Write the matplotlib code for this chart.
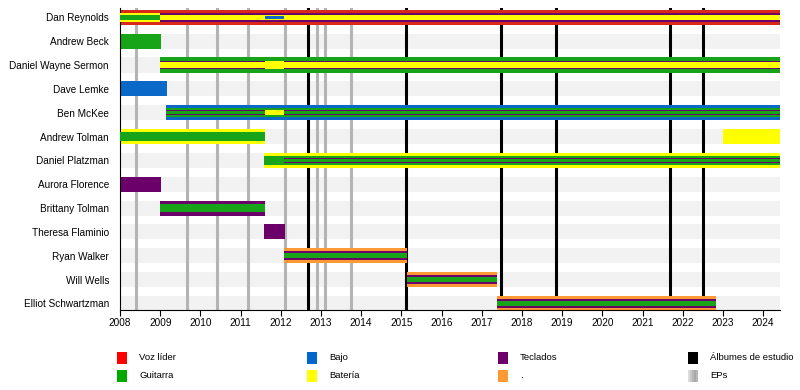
import matplotlib.pyplot as plt
from matplotlib.patches import Rectangle

plt.rcParams['font.family'] = ['Liberation Sans', 'DejaVu Sans']

members = ["Dan Reynolds", "Andrew Beck", "Daniel Wayne Sermon", "Dave Lemke",
           "Ben McKee", "Andrew Tolman", "Daniel Platzman", "Aurora Florence",
           "Brittany Tolman", "Theresa Flaminio", "Ryan Walker", "Will Wells",
           "Elliot Schwartzman"]

START = 2008.0
END = 2024.42

# roles: v=voz, g=guitarra, b=bajo, d=bateria, k=teclados, o=otros ('.')
period_member = ["Dan Reynolds", "Dan Reynolds", "Dan Reynolds", "Dan Reynolds",
                 "Andrew Beck",
                 "Daniel Wayne Sermon", "Daniel Wayne Sermon", "Daniel Wayne Sermon",
                 "Dave Lemke",
                 "Ben McKee", "Ben McKee", "Ben McKee",
                 "Andrew Tolman", "Andrew Tolman",
                 "Daniel Platzman", "Daniel Platzman",
                 "Aurora Florence", "Brittany Tolman", "Theresa Flaminio",
                 "Ryan Walker", "Will Wells", "Elliot Schwartzman"]
period_start = [2008.0, 2009.0, 2011.6, 2012.08,
                2008.0,
                2009.0, 2011.6, 2012.08,
                2008.0,
                2009.14, 2011.6, 2012.08,
                2008.0, 2023.0,
                2011.58, 2012.08,
                2008.0, 2009.0, 2011.58,
                2012.08, 2015.13, 2017.37]
period_end = [2009.0, 2011.6, 2012.08, END,
              2009.02,
              2011.6, 2012.08, END,
              2009.17,
              2011.6, 2012.08, END,
              2011.6, END,
              2012.08, END,
              2009.02, 2011.6, 2012.1,
              2015.13, 2017.37, 2022.84]
period_roles = ["vdg", "vkd", "vkdb", "vkd",
                "g",
                "gkd", "gd", "gkd",
                "b",
                "bgkg", "bgd", "bgkg",
                "dg", "d",
                "dg", "dgkg",
                "k", "kg", "k",
                "okg", "okg", "okg"]

role_colors = {"v": "#d8281a", "g": "#18a418", "b": "#0a68c8", "d": "#ffff00",
               "k": "#6b006b", "o": "#ff9933"}

ep_dates = [2008.4, 2009.67, 2010.42, 2011.19, 2012.1, 2012.89, 2013.1, 2013.75]
album_dates = [2012.68, 2015.11, 2017.49, 2018.85, 2021.69, 2022.51]

legend_labels = ["Voz líder", "Guitarra", "Bajo", "Batería",
                 "Teclados", ".", "Álbumes de estudio", "EPs"]
legend_colors = ["#ff0000", "#00aa00", "#0066cc", "#ffff00",
                 "#6b006b", "#ff9933", "#000000", "#b4b4b4"]

depth_height = [0.63, 0.37, 0.23, 0.1]

fig = plt.figure(figsize=(8, 3.9), dpi=100)
ax = fig.add_axes([0.15, 0.205, 0.825, 0.775])

row = {m: i for i, m in enumerate(members)}

# background bands
for i in range(len(members)):
    ax.add_patch(Rectangle((START, i - 0.315), END - START, 0.63,
                           facecolor="#f2f2f2", edgecolor="none", zorder=0))

for x in ep_dates:
    ax.axvline(x, color="#b4b4b4", lw=2.2, zorder=1)
for x in album_dates:
    ax.axvline(x, color="black", lw=2.2, zorder=1)

for m, s, e, roles in zip(period_member, period_start, period_end, period_roles):
    y = row[m]
    for d, r in enumerate(roles):
        h = depth_height[d]
        ax.add_patch(Rectangle((s, y - h / 2), e - s, h, facecolor=role_colors[r],
                               edgecolor="none", zorder=2 + d))

ax.set_xlim(START, END)
ax.set_ylim(12.28, -0.4)
ax.set_yticks(range(len(members)))
ax.set_yticklabels(members, fontsize=7.2)
ax.tick_params(axis="y", length=0, pad=8)
ax.set_xticks(range(2008, 2025))
ax.set_xticklabels([str(y) for y in range(2008, 2025)], fontsize=7.2)
ax.tick_params(axis="x", length=4, width=0.8, pad=2)
for sp in ["top", "right"]:
    ax.spines[sp].set_visible(False)

# legend
col_x = [117, 307, 498, 688]
row_y = [358, 376]
for i, (lab, c) in enumerate(zip(legend_labels, legend_colors)):
    cx = col_x[i // 2]
    cy = row_y[i % 2]
    if lab == "EPs":
        # light-to-dark grey swatch
        for k, g in enumerate(["#dcdcdc", "#c8c8c8", "#b8b8b8", "#aaaaaa", "#b8b8b8"]):
            fig.add_artist(Rectangle(((cx + 2 * k) / 800, 1 - (cy + 6) / 390),
                                     2 / 800, 12 / 390, facecolor=g,
                                     edgecolor="none", transform=fig.transFigure))
    else:
        fig.add_artist(Rectangle((cx / 800, 1 - (cy + 6) / 390), 10 / 800, 12 / 390,
                                 facecolor=c, edgecolor="none",
                                 transform=fig.transFigure))
    fig.text((cx + 22) / 800, 1 - cy / 390, lab, fontsize=6.8, va="center")

fig.savefig("out.png", dpi=100)
